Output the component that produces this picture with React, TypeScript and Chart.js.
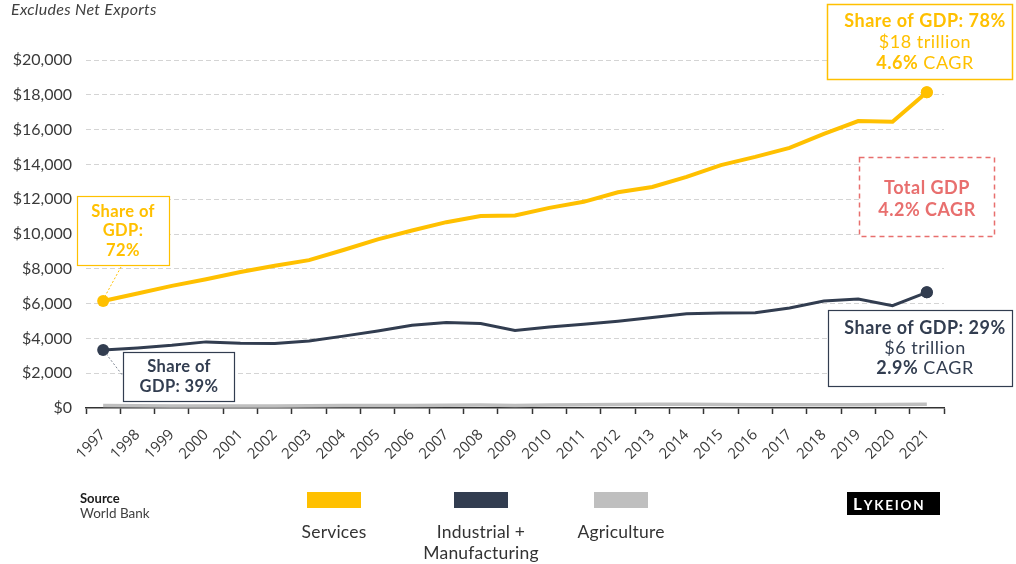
import React, { useEffect, useRef } from "react";
import { Chart, registerables } from "chart.js";

Chart.register(...registerables);

const years = [
  "1997", "1998", "1999", "2000", "2001", "2002", "2003", "2004", "2005",
  "2006", "2007", "2008", "2009", "2010", "2011", "2012", "2013", "2014",
  "2015", "2016", "2017", "2018", "2019", "2020", "2021",
];

const services = [
  6150, 6580, 7020, 7400, 7820, 8170, 8500, 9080, 9690, 10200, 10680, 11030,
  11070, 11500, 11850, 12400, 12700, 13280, 13960, 14430, 14950, 15750, 16490,
  16450, 18150,
];

const industrial = [
  3340, 3450, 3600, 3800, 3720, 3700, 3850, 4130, 4430, 4760, 4920, 4850,
  4460, 4660, 4820, 4990, 5200, 5420, 5460, 5480, 5750, 6150, 6260, 5880,
  6650,
];

const agriculture = [
  140, 130, 120, 115, 110, 110, 125, 140, 145, 150, 160, 170, 150, 170, 190,
  200, 220, 220, 200, 190, 190, 190, 190, 200, 220,
];

const yMin = 0;
const yMax = 20000;
const yStep = 2000;

const seriesNames = ["Services", "Industrial + Manufacturing", "Agriculture"];
const legendLines = [["Services"], ["Industrial +", "Manufacturing"], ["Agriculture"]];

const YELLOW = "#FFC000";
const NAVY = "#323D50";
const GRAY = "#BFBFBF";
const RED = "#E86F6E";
const FONT = "Lato, 'Open Sans', sans-serif";

type Run = { t: string; b: boolean };

function drawRuns(ctx: CanvasRenderingContext2D, runs: Run[], cx: number, cy: number, size: number, color: string, spacing = 0) {
  const c: any = ctx;
  c.letterSpacing = spacing + "px";
  let total = 0;
  const widths: number[] = [];
  runs.forEach((r) => {
    ctx.font = `${r.b ? "bold" : "normal"} ${size}px ${FONT}`;
    const w = ctx.measureText(r.t).width;
    widths.push(w);
    total += w;
  });
  let x = cx - total / 2;
  ctx.fillStyle = color;
  ctx.textAlign = "left";
  ctx.textBaseline = "middle";
  runs.forEach((r, i) => {
    ctx.font = `${r.b ? "bold" : "normal"} ${size}px ${FONT}`;
    ctx.fillText(r.t, x, cy);
    x += widths[i];
  });
  c.letterSpacing = "0px";
}

function box(ctx: CanvasRenderingContext2D, x1: number, y1: number, x2: number, y2: number, color: string, width: number, dash: number[] = []) {
  ctx.save();
  ctx.strokeStyle = color;
  ctx.lineWidth = width;
  ctx.setLineDash(dash);
  ctx.fillStyle = "#ffffff";
  ctx.fillRect(x1, y1, x2 - x1, y2 - y1);
  ctx.strokeRect(x1, y1, x2 - x1, y2 - y1);
  ctx.restore();
}

function connector(ctx: CanvasRenderingContext2D, x1: number, y1: number, x2: number, y2: number, color: string) {
  ctx.save();
  ctx.strokeStyle = color;
  ctx.lineWidth = 1;
  ctx.setLineDash([2, 2]);
  ctx.beginPath();
  ctx.moveTo(x1, y1);
  ctx.lineTo(x2, y2);
  ctx.stroke();
  ctx.restore();
}

const overlayPlugin = {
  id: "overlay",
  afterDraw(chart: any) {
    const ctx: CanvasRenderingContext2D = chart.ctx;
    const xs = chart.scales.x;
    const ys = chart.scales.y;
    const last = years.length - 1;
    ctx.save();

    // Header note
    ctx.font = `italic 16px ${FONT}`;
    ctx.fillStyle = "#404040";
    ctx.textAlign = "left";
    ctx.textBaseline = "middle";
    (ctx as any).letterSpacing = "0.3px";
    ctx.fillText("Excludes Net Exports", 11, 10);
    (ctx as any).letterSpacing = "0px";

    // Services first point annotation
    const s0x = xs.getPixelForValue(0);
    const s0y = ys.getPixelForValue(services[0]);
    connector(ctx, 121, 267, s0x + 2, s0y - 5, YELLOW);
    box(ctx, 77.5, 196.5, 169.5, 265.5, YELLOW, 1.2);
    drawRuns(ctx, [{ t: "Share of", b: true }], 123, 212, 16.5, YELLOW, 0.4);
    drawRuns(ctx, [{ t: "GDP:", b: true }], 123, 231, 16.5, YELLOW, 0.4);
    drawRuns(ctx, [{ t: "72%", b: true }], 123, 251, 16.5, YELLOW, 0.4);

    // Industrial first point annotation
    const i0x = xs.getPixelForValue(0);
    const i0y = ys.getPixelForValue(industrial[0]);
    connector(ctx, i0x + 3, i0y + 4, 123, 376, "#7f8794");
    box(ctx, 123.5, 352.5, 234.5, 401.5, NAVY, 1.2);
    drawRuns(ctx, [{ t: "Share of", b: true }], 179, 367, 16.5, NAVY, 0.4);
    drawRuns(ctx, [{ t: "GDP: 39%", b: true }], 179, 387, 16.5, NAVY, 0.4);

    // Services last annotation
    box(ctx, 827.5, 4.5, 1012.5, 79.5, YELLOW, 1.5);
    drawRuns(ctx, [{ t: "Share of GDP: 78%", b: true }], 925, 21, 18, YELLOW, 0.5);
    drawRuns(ctx, [{ t: "$18 trillion", b: false }], 925, 42, 18, YELLOW, 0.5);
    drawRuns(ctx, [{ t: "4.6%", b: true }, { t: " CAGR", b: false }], 925, 63, 18, YELLOW, 0.5);

    // Total GDP
    box(ctx, 859.5, 157.5, 994.5, 236.5, RED, 1.5, [5, 4]);
    drawRuns(ctx, [{ t: "Total GDP", b: true }], 927, 188, 18, RED, 0.5);
    drawRuns(ctx, [{ t: "4.2% CAGR", b: true }], 927, 210, 18, RED, 0.5);

    // Industrial last annotation
    box(ctx, 828.5, 310.5, 1012.5, 386.5, NAVY, 1.2);
    drawRuns(ctx, [{ t: "Share of GDP: 29%", b: true }], 925, 328, 18, NAVY, 0.5);
    drawRuns(ctx, [{ t: "$6 trillion", b: false }], 925, 348, 18, NAVY, 0.5);
    drawRuns(ctx, [{ t: "2.9%", b: true }, { t: " CAGR", b: false }], 925, 368, 18, NAVY, 0.5);

    // Redraw end points above boxes
    ctx.fillStyle = YELLOW;
    ctx.beginPath();
    ctx.arc(xs.getPixelForValue(last), ys.getPixelForValue(services[last]), 6, 0, Math.PI * 2);
    ctx.fill();
    ctx.fillStyle = NAVY;
    ctx.beginPath();
    ctx.arc(xs.getPixelForValue(last), ys.getPixelForValue(industrial[last]), 6, 0, Math.PI * 2);
    ctx.fill();

    // Source
    ctx.textAlign = "left";
    ctx.textBaseline = "middle";
    ctx.fillStyle = "#1a1a1a";
    ctx.font = `bold 13px ${FONT}`;
    ctx.fillText("Source", 80, 499);
    ctx.fillStyle = "#404040";
    ctx.font = `normal 13.5px ${FONT}`;
    ctx.fillText("World Bank", 80, 514);

    // Legend
    const legendColors = [YELLOW, NAVY, GRAY];
    const legendCenters = [334, 481, 621];
    legendLines.forEach((lines, i) => {
      const cx = legendCenters[i];
      ctx.fillStyle = legendColors[i];
      ctx.fillRect(cx - 27, 492, 54, 16);
      lines.forEach((ln, j) => {
        drawRuns(ctx, [{ t: ln, b: false }], cx, 532 + j * 21, 17.5, "#333333", 0.2);
      });
    });

    // Logo
    ctx.fillStyle = "#000000";
    ctx.fillRect(847, 492, 93, 23);
    ctx.fillStyle = "#ffffff";
    ctx.textBaseline = "alphabetic";
    ctx.textAlign = "left";
    let lx = 853;
    const letters = "LYKEION";
    for (let k = 0; k < letters.length; k++) {
      const sz = k === 0 ? 17 : 13.5;
      ctx.font = `bold ${sz}px ${FONT}`;
      ctx.fillText(letters[k], lx, 509.5);
      lx += ctx.measureText(letters[k]).width + 1.8;
    }

    ctx.restore();
  },
};

export default function App() {
  const ref = useRef<HTMLCanvasElement | null>(null);

  useEffect(() => {
    document.body.style.margin = "0";
    if (!ref.current) return;
    const last = years.length - 1;
    const endRadius = (c: any) => (c.dataIndex === 0 || c.dataIndex === last ? 6 : 0);
    const chart = new Chart(ref.current, {
      type: "line",
      data: {
        labels: years,
        datasets: [
          {
            label: seriesNames[2],
            data: agriculture,
            borderColor: GRAY,
            backgroundColor: GRAY,
            borderWidth: 3.5,
            pointRadius: 0,
            tension: 0,
          },
          {
            label: seriesNames[1],
            data: industrial,
            borderColor: NAVY,
            backgroundColor: NAVY,
            borderWidth: 3,
            pointRadius: endRadius,
            pointBorderWidth: 0,
            tension: 0,
          },
          {
            label: seriesNames[0],
            data: services,
            borderColor: YELLOW,
            backgroundColor: YELLOW,
            borderWidth: 4,
            pointRadius: endRadius,
            pointBorderWidth: 0,
            tension: 0,
          },
        ],
      },
      options: {
        responsive: false,
        animation: false,
        devicePixelRatio: 1,
        layout: { padding: { top: 60, right: 72, left: 0, bottom: 0 } },
        plugins: {
          legend: { display: false },
          tooltip: { enabled: false },
        },
        scales: {
          x: {
            type: "category",
            offset: true,
            grid: {
              display: true,
              drawOnChartArea: false,
              drawTicks: true,
              tickLength: 6,
              offset: true,
              tickColor: "#333333",
              tickWidth: 1.5,
            },
            border: { display: true, color: "#333333", width: 1.5 },
            ticks: {
              autoSkip: false,
              minRotation: 45,
              maxRotation: 45,
              padding: 12,
              color: "#3a3a3a",
              font: { family: "'Open Sans', sans-serif", size: 15 },
            },
            afterFit: (s: any) => {
              s.height = 156;
            },
          },
          y: {
            min: yMin,
            max: yMax,
            ticks: {
              stepSize: yStep,
              padding: 14,
              color: "#3a3a3a",
              font: { family: FONT, size: 16 },
              callback: (v: any) => "$" + Number(v).toLocaleString("en-US"),
            },
            grid: {
              drawTicks: false,
              color: (c: any) => (c.tick && c.tick.value === 0 ? "rgba(0,0,0,0)" : "#d4d4d4"),
              lineWidth: 1,
            },
            border: { display: false, dash: [5, 3] },
            afterFit: (s: any) => {
              s.width = 86;
            },
          },
        },
      },
      plugins: [overlayPlugin],
    });
    return () => chart.destroy();
  }, []);

  return (
    <div style={{ position: "fixed", left: 0, top: 0, width: 1016, height: 564, background: "#ffffff" }}>
      <canvas ref={ref} width={1016} height={564} style={{ display: "block" }} />
    </div>
  );
}
